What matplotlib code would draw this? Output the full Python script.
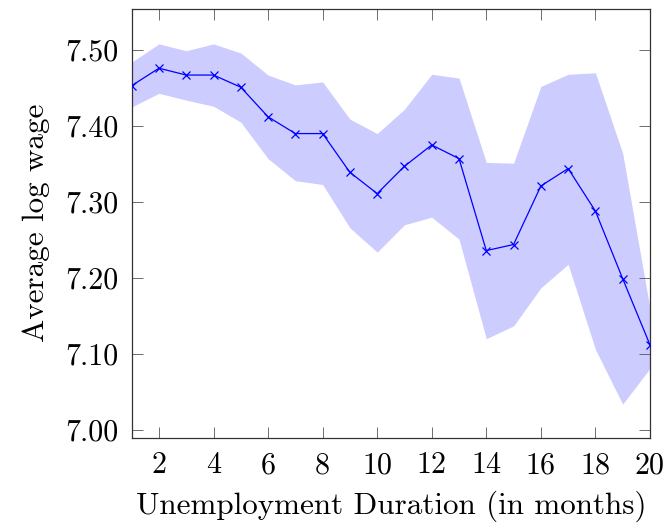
import matplotlib
matplotlib.use("Agg")
import matplotlib.pyplot as plt
from matplotlib.ticker import FixedLocator, FixedFormatter

# Average log wage by unemployment duration, with confidence band
months = list(range(1, 21))
mean_wage = [7.453, 7.476, 7.467, 7.467, 7.451, 7.412, 7.390, 7.390, 7.339, 7.311,
             7.347, 7.375, 7.357, 7.236, 7.244, 7.321, 7.344, 7.288, 7.199, 7.112]
upper_band = [7.484, 7.508, 7.499, 7.508, 7.496, 7.467, 7.454, 7.458, 7.409, 7.390,
              7.422, 7.468, 7.463, 7.352, 7.351, 7.452, 7.468, 7.470, 7.364, 7.160]
lower_band = [7.425, 7.443, 7.434, 7.426, 7.405, 7.357, 7.328, 7.323, 7.266, 7.234,
              7.270, 7.280, 7.251, 7.120, 7.137, 7.187, 7.218, 7.106, 7.034, 7.081]

x_ticks = [2, 4, 6, 8, 10, 12, 14, 16, 18, 20]
x_tick_labels = [str(v) for v in x_ticks]
y_ticks = [7.00, 7.10, 7.20, 7.30, 7.40, 7.50]
y_tick_labels = ["7.00", "7.10", "7.20", "7.30", "7.40", "7.50"]

plt.rcParams["font.family"] = ["cmr10", "DejaVu Serif"]
plt.rcParams["axes.formatter.use_mathtext"] = True

fig = plt.figure(figsize=(6.65, 5.25), dpi=100)
ax = fig.add_axes([0.198, 0.1657, 0.7794, 0.818])

ax.fill_between(months, lower_band, upper_band, color="#ccccff", linewidth=0, zorder=1)
ax.plot(months, mean_wage, color="#0000ff", linewidth=0.9, marker="x",
        markersize=5.5, markeredgewidth=0.9, zorder=3)

ax.set_xlim(1, 20)
ax.set_ylim(6.9894, 7.5545)

ax.xaxis.set_major_locator(FixedLocator(x_ticks))
ax.xaxis.set_major_formatter(FixedFormatter(x_tick_labels))
ax.yaxis.set_major_locator(FixedLocator(y_ticks))
ax.yaxis.set_major_formatter(FixedFormatter(y_tick_labels))

ax.tick_params(axis="both", which="major", direction="in", length=7.8, width=0.6,
               color="#555555", top=True, right=True, labelsize=21.7, pad=9.5)

for spine in ax.spines.values():
    spine.set_linewidth(0.9)
    spine.set_color("#333333")

ax.set_xlabel("Unemployment Duration (in months)", fontsize=22.4, labelpad=8)
ax.set_ylabel("Average log wage", fontsize=22.4, labelpad=11)

fig.savefig("out.png", dpi=100)
